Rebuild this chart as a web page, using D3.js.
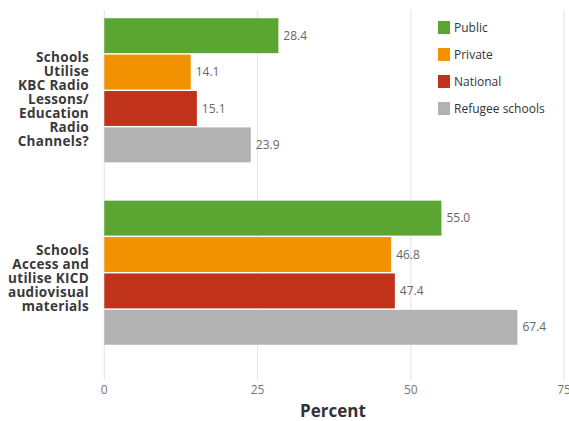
<!DOCTYPE html>
<html><head><meta charset="utf-8">
<script src="https://cdn.jsdelivr.net/npm/d3@7"></script>
<style>body{margin:0;background:#fff;} text{font-family:"Open Sans",sans-serif;}</style>
</head><body><svg id="c" width="569" height="421"></svg>
<script>
const categories = ["Schools Utilise KBC Radio Lessons/ Education Radio Channels?", "Schools Access and utilise KICD audiovisual materials"];
const categoryLines = [["Schools","Utilise","KBC Radio","Lessons/","Education","Radio","Channels?"],["Schools","Access and","utilise KICD","audiovisual","materials"]];
const series = ["Public","Private","National","Refugee schools"];
const colors = ["#5ba532","#f39200","#c0321a","#b2b2b2"];
const publicVals = [28.4, 55.0];
const privateVals = [14.1, 46.8];
const nationalVals = [15.1, 47.4];
const refugeeVals = [23.9, 67.4];
const ticks = [0,25,50,75];
const values = [publicVals, privateVals, nationalVals, refugeeVals];

const svg = d3.select("#c");
const x = d3.scaleLinear().domain([0,75]).range([104.3,564]);
const y0 = d3.scaleBand().domain(categories).range([0,363]).paddingInner(0.21).paddingOuter(0.1);
const y1 = d3.scaleBand().domain(series).range([0,y0.bandwidth()]).paddingInner(0.04);

// gridlines
svg.append("g").selectAll("line").data(ticks).join("line")
  .attr("x1",d=>x(d)).attr("x2",d=>x(d)).attr("y1",10).attr("y2",380)
  .attr("stroke","#e6e6e6").attr("stroke-width",1.2);

// axis labels
svg.append("g").selectAll("text").data(ticks).join("text")
  .attr("x",d=>x(d)).attr("y",394).attr("text-anchor","middle")
  .attr("font-size",12).attr("fill","#777").text(d=>d);

svg.append("text").attr("x",333).attr("y",416.5).attr("text-anchor","middle")
  .attr("font-size",17).attr("font-weight","bold").attr("fill","#333").text("Percent");

// bars
categories.forEach((cat,ci)=>{
  const g = svg.append("g").attr("transform",`translate(0,${y0(cat)})`);
  series.forEach((s,si)=>{
    const v = values[si][ci];
    g.append("rect").attr("x",x(0)).attr("y",y1(s)).attr("width",x(v)-x(0)).attr("height",y1.bandwidth()).attr("fill",colors[si]);
    g.append("text").attr("x",x(v)+5).attr("y",y1(s)+y1.bandwidth()/2).attr("dy","0.35em")
      .attr("font-size",12).attr("fill","#666").text(v.toFixed(1));
  });
  const lines = categoryLines[ci];
  const cy = y0(cat)+y0.bandwidth()/2 + (ci===0?9:6);
  const lh = 14;
  const t = svg.append("text").attr("text-anchor","end").attr("font-size",13.5).attr("font-weight","bold")
    .attr("letter-spacing",0.3).attr("fill","#3a3a3a");
  lines.forEach((l,li)=>{
    t.append("tspan").attr("x",89).attr("y",cy + (li-(lines.length-1)/2)*lh).attr("dy","0.35em").text(l);
  });
});

// legend
const lg = svg.append("g");
series.forEach((s,i)=>{
  lg.append("rect").attr("x",438).attr("y",21+i*27).attr("width",12).attr("height",13).attr("fill",colors[i]);
  lg.append("text").attr("x",454).attr("y",27.5+i*27).attr("dy","0.35em").attr("font-size",12).attr("fill","#333").text(s);
});
</script></body></html>
